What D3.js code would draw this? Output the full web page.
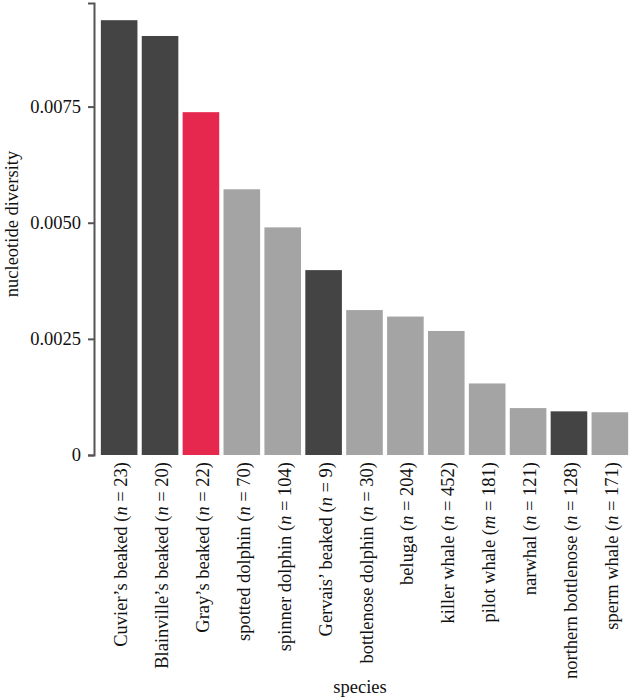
<!DOCTYPE html>
<html><head><meta charset="utf-8">
<script src="https://cdn.jsdelivr.net/npm/d3@7"></script>
<style>body{margin:0;background:#fff}svg{display:block}</style>
</head><body>
<script>
const species = ["Cuvier’s beaked","Blainville’s beaked","Gray’s beaked","spotted dolphin","spinner dolphin","Gervais’ beaked","bottlenose dolphin","beluga","killer whale","pilot whale","narwhal","northern bottlenose","sperm whale"];
const nLetter = ["n","n","n","n","n","n","n","n","n","m","n","n","n"];
const sampleSize = [23,20,22,70,104,9,30,204,452,181,121,128,171];
const diversity = [0.00936,0.00902,0.00738,0.00572,0.00490,0.00398,0.00312,0.00298,0.00267,0.00154,0.00101,0.00094,0.00092];
const group = ["beaked","beaked","focal","other","other","beaked","other","other","other","other","other","beaked","other"];
const yTicks = [0,0.0025,0.005,0.0075];
const colors = {beaked:"#444444", focal:"#e6284f", other:"#a4a4a4"};

const W=632,H=698;
const svg=d3.select("body").append("svg").attr("width",W).attr("height",H);
const font="'Liberation Serif','Times New Roman',serif";
const fs=18.5;

const x=d3.scaleBand().domain(species).range([95,634]).paddingInner(0.105).paddingOuter(0.143);
const y=d3.scaleLinear().domain([0,0.00973]).range([455,3]);

svg.append("g").selectAll("rect").data(species).join("rect")
  .attr("x",d=>x(d)).attr("width",x.bandwidth())
  .attr("y",(d,i)=>y(diversity[i])).attr("height",(d,i)=>y(0)-y(diversity[i]))
  .attr("fill",(d,i)=>colors[group[i]]);

const ya=svg.append("g").attr("transform","translate(94,0)")
  .call(d3.axisLeft(y).tickValues(yTicks).tickSize(6).tickSizeOuter(6).tickPadding(7)
    .tickFormat(d=>d===0?"0":d3.format(".4f")(d)));
ya.select(".domain").attr("stroke","#555").attr("stroke-width",2);
ya.selectAll(".tick line").attr("stroke","#555").attr("stroke-width",2);
ya.selectAll(".tick text").attr("font-family",font).attr("font-size",fs).attr("fill","#111");

const lab=svg.append("g").selectAll("text").data(species).join("text")
  .attr("transform",d=>`translate(${x(d)+x.bandwidth()/2+8},462) rotate(-90)`)
  .attr("text-anchor","end").attr("font-family",font).attr("font-size",fs).attr("fill","#111");
lab.each(function(d,i){
  const t=d3.select(this);
  t.append("tspan").text(d+" (");
  t.append("tspan").attr("font-style","italic").text(nLetter[i]);
  t.append("tspan").text(" = "+sampleSize[i]+")");
});

svg.append("text").attr("transform","translate(18,224) rotate(-90)").attr("text-anchor","middle")
  .attr("font-family",font).attr("font-size",fs).attr("fill","#111").text("nucleotide diversity");
svg.append("text").attr("x",360).attr("y",693).attr("text-anchor","middle")
  .attr("font-family",font).attr("font-size",fs).attr("fill","#111").text("species");
</script>
</body></html>
